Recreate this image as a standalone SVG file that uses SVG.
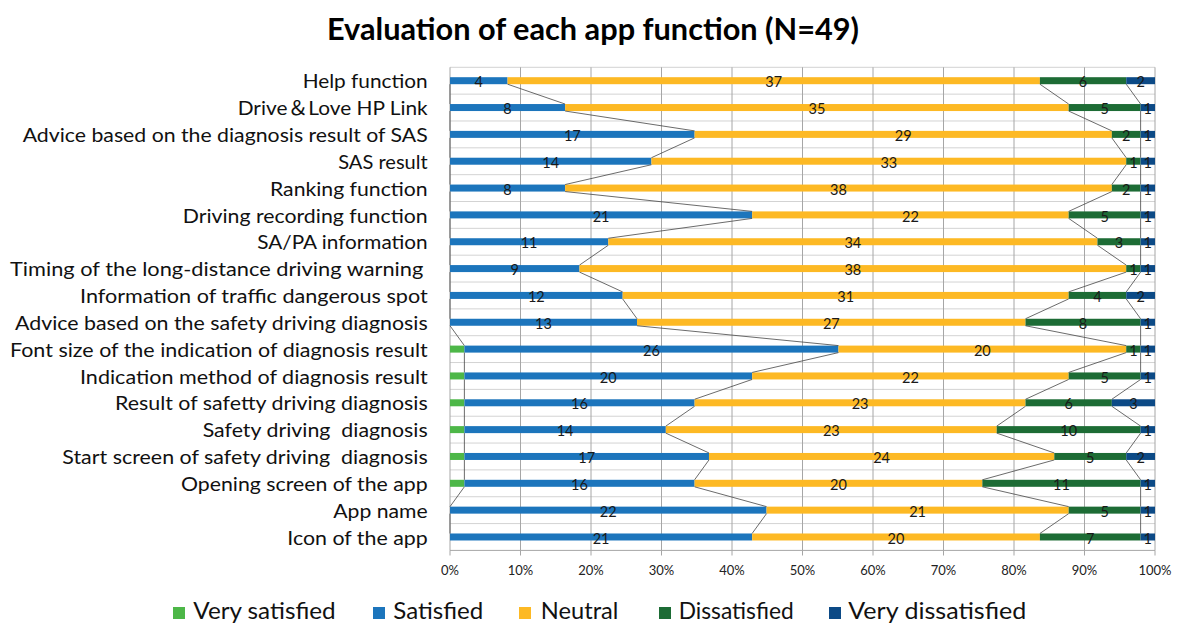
<svg xmlns="http://www.w3.org/2000/svg" width="1180" height="626" viewBox="0 0 1180 626">
<style>
.vs{fill:#4DB748}.s{fill:#1C75BC}.n{fill:#FDB924}.d{fill:#1D6C35}.vd{fill:#0C4A86}
.cat{font-family:Lato,'Noto Sans CJK JP',sans-serif;font-size:19.5px;fill:#111;text-anchor:end}
.val{font-family:Lato,sans-serif;font-size:14.5px;fill:#1a1a1a;text-anchor:middle}
.tick{font-family:Lato,sans-serif;font-size:13px;fill:#222;text-anchor:middle}
.leg{font-family:Lato,sans-serif;font-size:22.5px;fill:#111}
.title{font-family:Lato,sans-serif;font-size:30px;font-weight:bold;fill:#000;text-anchor:middle}
.vg{stroke:#A6A6A6;stroke-width:1;fill:none}
.hg{stroke:#D3D3D3;stroke-width:1;fill:none}
.ser{stroke:#454545;stroke-width:0.8;fill:none}
</style>
<rect width="1180" height="626" fill="#fff"/>
<text class="title" x="593" y="40" textLength="532" lengthAdjust="spacingAndGlyphs">Evaluation of each app function (N=49)</text>
<g id="grid">
<path class="hg" d="M450 67.3H1155M450 94.14H1155M450 120.98H1155M450 147.82H1155M450 174.66H1155M450 201.5H1155M450 228.34H1155M450 255.18H1155M450 282.02H1155M450 308.86H1155M450 335.7H1155M450 362.54H1155M450 389.38H1155M450 416.22H1155M450 443.06H1155M450 469.9H1155M450 496.74H1155M450 523.58H1155"/>
<path class="vg" d="M520.5 67.3V550.4M591 67.3V550.4M661.5 67.3V550.4M732 67.3V550.4M802.5 67.3V550.4M873 67.3V550.4M943.5 67.3V550.4M1014 67.3V550.4M1084.5 67.3V550.4M1155 67.3V550.4"/>
<path class="vg" d="M450 67.3V550.4M450 550.4H1155M450 550.4V555.5M520.5 550.4V555.5M591 550.4V555.5M661.5 550.4V555.5M732 550.4V555.5M802.5 550.4V555.5M873 550.4V555.5M943.5 550.4V555.5M1014 550.4V555.5M1084.5 550.4V555.5M1155 550.4V555.5"/>
</g>
<g id="axis-labels">
<text class="tick" x="450" y="575">0%</text>
<text class="tick" x="520.5" y="575">10%</text>
<text class="tick" x="591" y="575">20%</text>
<text class="tick" x="661.5" y="575">30%</text>
<text class="tick" x="732" y="575">40%</text>
<text class="tick" x="802.5" y="575">50%</text>
<text class="tick" x="873" y="575">60%</text>
<text class="tick" x="943.5" y="575">70%</text>
<text class="tick" x="1014" y="575">80%</text>
<text class="tick" x="1084.5" y="575">90%</text>
<text class="tick" x="1155" y="575">100%</text>
</g>
<g id="row1">
<text class="cat" x="427.7" y="88.3" textLength="125" lengthAdjust="spacingAndGlyphs">Help function</text>
<rect class="s" x="450" y="77.2" width="57.55" height="7"/><rect class="n" x="507.55" y="77.2" width="532.35" height="7"/><rect class="d" x="1039.9" y="77.2" width="86.32" height="7"/><rect class="vd" x="1126.22" y="77.2" width="28.78" height="7"/>
<text class="val" x="478.78" y="87.3">4</text><text class="val" x="773.7" y="87.3">37</text><text class="val" x="1083.06" y="87.3">6</text><text class="val" x="1140.61" y="87.3">2</text>
</g>
<g id="row2">
<text class="cat" x="427.7" y="115.14" textLength="190" lengthAdjust="spacingAndGlyphs">Drive＆Love HP Link</text>
<rect class="s" x="450" y="104.04" width="115.1" height="7"/><rect class="n" x="565.1" y="104.04" width="503.57" height="7"/><rect class="d" x="1068.67" y="104.04" width="71.94" height="7"/><rect class="vd" x="1140.61" y="104.04" width="14.39" height="7"/>
<text class="val" x="507.55" y="114.14">8</text><text class="val" x="816.9" y="114.14">35</text><text class="val" x="1104.64" y="114.14">5</text><text class="val" x="1147.8" y="114.14">1</text>
</g>
<g id="row3">
<text class="cat" x="427.7" y="141.98" textLength="405" lengthAdjust="spacingAndGlyphs">Advice based on the diagnosis result of SAS</text>
<rect class="s" x="450" y="130.88" width="244.59" height="7"/><rect class="n" x="694.59" y="130.88" width="417.25" height="7"/><rect class="d" x="1111.84" y="130.88" width="28.77" height="7"/><rect class="vd" x="1140.61" y="130.88" width="14.39" height="7"/>
<text class="val" x="572.3" y="140.98">17</text><text class="val" x="903.2" y="140.98">29</text><text class="val" x="1126.2" y="140.98">2</text><text class="val" x="1147.8" y="140.98">1</text>
</g>
<g id="row4">
<text class="cat" x="427.7" y="168.82" textLength="89.5" lengthAdjust="spacingAndGlyphs">SAS result</text>
<rect class="s" x="450" y="157.72" width="201.43" height="7"/><rect class="n" x="651.43" y="157.72" width="474.79" height="7"/><rect class="d" x="1126.22" y="157.72" width="14.39" height="7"/><rect class="vd" x="1140.61" y="157.72" width="14.39" height="7"/>
<text class="val" x="550.7" y="167.82">14</text><text class="val" x="888.8" y="167.82">33</text><text class="val" x="1133.4" y="167.82">1</text><text class="val" x="1147.8" y="167.82">1</text>
</g>
<g id="row5">
<text class="cat" x="427.7" y="195.66" textLength="157.7" lengthAdjust="spacingAndGlyphs">Ranking function</text>
<rect class="s" x="450" y="184.56" width="115.1" height="7"/><rect class="n" x="565.1" y="184.56" width="546.74" height="7"/><rect class="d" x="1111.84" y="184.56" width="28.77" height="7"/><rect class="vd" x="1140.61" y="184.56" width="14.39" height="7"/>
<text class="val" x="507.55" y="194.66">8</text><text class="val" x="838.5" y="194.66">38</text><text class="val" x="1126.2" y="194.66">2</text><text class="val" x="1147.8" y="194.66">1</text>
</g>
<g id="row6">
<text class="cat" x="427.7" y="222.5" textLength="245" lengthAdjust="spacingAndGlyphs">Driving recording function</text>
<rect class="s" x="450" y="211.4" width="302.14" height="7"/><rect class="n" x="752.14" y="211.4" width="316.53" height="7"/><rect class="d" x="1068.67" y="211.4" width="71.94" height="7"/><rect class="vd" x="1140.61" y="211.4" width="14.39" height="7"/>
<text class="val" x="601.07" y="221.5">21</text><text class="val" x="910.4" y="221.5">22</text><text class="val" x="1104.64" y="221.5">5</text><text class="val" x="1147.8" y="221.5">1</text>
</g>
<g id="row7">
<text class="cat" x="427.7" y="249.34" textLength="170.4" lengthAdjust="spacingAndGlyphs">SA/PA information</text>
<rect class="s" x="450" y="238.24" width="158.27" height="7"/><rect class="n" x="608.27" y="238.24" width="489.18" height="7"/><rect class="d" x="1097.45" y="238.24" width="43.16" height="7"/><rect class="vd" x="1140.61" y="238.24" width="14.39" height="7"/>
<text class="val" x="529.1" y="248.34">11</text><text class="val" x="852.86" y="248.34">34</text><text class="val" x="1119.03" y="248.34">3</text><text class="val" x="1147.8" y="248.34">1</text>
</g>
<g id="row8">
<text class="cat" x="423.3" y="276.18" textLength="413.3" lengthAdjust="spacingAndGlyphs">Timing of the long-distance driving warning</text>
<rect class="s" x="450" y="265.08" width="129.49" height="7"/><rect class="n" x="579.49" y="265.08" width="546.73" height="7"/><rect class="d" x="1126.22" y="265.08" width="14.39" height="7"/><rect class="vd" x="1140.61" y="265.08" width="14.39" height="7"/>
<text class="val" x="514.7" y="275.18">9</text><text class="val" x="852.86" y="275.18">38</text><text class="val" x="1133.4" y="275.18">1</text><text class="val" x="1147.8" y="275.18">1</text>
</g>
<g id="row9">
<text class="cat" x="427.7" y="303.02" textLength="347.7" lengthAdjust="spacingAndGlyphs">Information of traffic dangerous spot</text>
<rect class="s" x="450" y="291.92" width="172.65" height="7"/><rect class="n" x="622.65" y="291.92" width="446.02" height="7"/><rect class="d" x="1068.67" y="291.92" width="57.55" height="7"/><rect class="vd" x="1126.22" y="291.92" width="28.78" height="7"/>
<text class="val" x="536.3" y="302.02">12</text><text class="val" x="845.7" y="302.02">31</text><text class="val" x="1097.45" y="302.02">4</text><text class="val" x="1140.61" y="302.02">2</text>
</g>
<g id="row10">
<text class="cat" x="427.7" y="329.86" textLength="412.7" lengthAdjust="spacingAndGlyphs">Advice based on the safety driving diagnosis</text>
<rect class="s" x="450" y="318.76" width="187.04" height="7"/><rect class="n" x="637.04" y="318.76" width="388.47" height="7"/><rect class="d" x="1025.51" y="318.76" width="115.1" height="7"/><rect class="vd" x="1140.61" y="318.76" width="14.39" height="7"/>
<text class="val" x="543.5" y="328.86">13</text><text class="val" x="831.3" y="328.86">27</text><text class="val" x="1083.06" y="328.86">8</text><text class="val" x="1147.8" y="328.86">1</text>
</g>
<g id="row11">
<text class="cat" x="427.7" y="356.7" textLength="417.7" lengthAdjust="spacingAndGlyphs">Font size of the indication of diagnosis result</text>
<rect class="vs" x="450" y="345.6" width="14.39" height="7"/><rect class="s" x="464.39" y="345.6" width="374.08" height="7"/><rect class="n" x="838.47" y="345.6" width="287.75" height="7"/><rect class="d" x="1126.22" y="345.6" width="14.39" height="7"/><rect class="vd" x="1140.61" y="345.6" width="14.39" height="7"/>
<text class="val" x="651.4" y="355.7">26</text><text class="val" x="982.35" y="355.7">20</text><text class="val" x="1133.4" y="355.7">1</text><text class="val" x="1147.8" y="355.7">1</text>
</g>
<g id="row12">
<text class="cat" x="427.7" y="383.54" textLength="347.7" lengthAdjust="spacingAndGlyphs">Indication method of diagnosis result</text>
<rect class="vs" x="450" y="372.44" width="14.39" height="7"/><rect class="s" x="464.39" y="372.44" width="287.75" height="7"/><rect class="n" x="752.14" y="372.44" width="316.53" height="7"/><rect class="d" x="1068.67" y="372.44" width="71.94" height="7"/><rect class="vd" x="1140.61" y="372.44" width="14.39" height="7"/>
<text class="val" x="608.27" y="382.54">20</text><text class="val" x="910.4" y="382.54">22</text><text class="val" x="1104.64" y="382.54">5</text><text class="val" x="1147.8" y="382.54">1</text>
</g>
<g id="row13">
<text class="cat" x="427.7" y="410.38" textLength="312.7" lengthAdjust="spacingAndGlyphs">Result of safetty driving diagnosis</text>
<rect class="vs" x="450" y="399.28" width="14.39" height="7"/><rect class="s" x="464.39" y="399.28" width="230.2" height="7"/><rect class="n" x="694.59" y="399.28" width="330.92" height="7"/><rect class="d" x="1025.51" y="399.28" width="86.33" height="7"/><rect class="vd" x="1111.84" y="399.28" width="43.16" height="7"/>
<text class="val" x="579.49" y="409.38">16</text><text class="val" x="860.05" y="409.38">23</text><text class="val" x="1068.67" y="409.38">6</text><text class="val" x="1133.42" y="409.38">3</text>
</g>
<g id="row14">
<text class="cat" x="427.7" y="437.22" textLength="225" lengthAdjust="spacingAndGlyphs" xml:space="preserve">Safety driving  diagnosis</text>
<rect class="vs" x="450" y="426.12" width="14.39" height="7"/><rect class="s" x="464.39" y="426.12" width="201.43" height="7"/><rect class="n" x="665.82" y="426.12" width="330.91" height="7"/><rect class="d" x="996.73" y="426.12" width="143.88" height="7"/><rect class="vd" x="1140.61" y="426.12" width="14.39" height="7"/>
<text class="val" x="565.1" y="436.22">14</text><text class="val" x="831.3" y="436.22">23</text><text class="val" x="1068.67" y="436.22">10</text><text class="val" x="1147.8" y="436.22">1</text>
</g>
<g id="row15">
<text class="cat" x="427.7" y="464.06" textLength="365.4" lengthAdjust="spacingAndGlyphs" xml:space="preserve">Start screen of safety driving  diagnosis</text>
<rect class="vs" x="450" y="452.96" width="14.39" height="7"/><rect class="s" x="464.39" y="452.96" width="244.59" height="7"/><rect class="n" x="708.98" y="452.96" width="345.31" height="7"/><rect class="d" x="1054.29" y="452.96" width="71.93" height="7"/><rect class="vd" x="1126.22" y="452.96" width="28.78" height="7"/>
<text class="val" x="586.7" y="463.06">17</text><text class="val" x="881.6" y="463.06">24</text><text class="val" x="1090.26" y="463.06">5</text><text class="val" x="1140.61" y="463.06">2</text>
</g>
<g id="row16">
<text class="cat" x="427.7" y="490.9" textLength="246.7" lengthAdjust="spacingAndGlyphs">Opening screen of the app</text>
<rect class="vs" x="450" y="479.8" width="14.39" height="7"/><rect class="s" x="464.39" y="479.8" width="230.2" height="7"/><rect class="n" x="694.59" y="479.8" width="287.76" height="7"/><rect class="d" x="982.35" y="479.8" width="158.26" height="7"/><rect class="vd" x="1140.61" y="479.8" width="14.39" height="7"/>
<text class="val" x="579.49" y="489.9">16</text><text class="val" x="838.47" y="489.9">20</text><text class="val" x="1061.48" y="489.9">11</text><text class="val" x="1147.8" y="489.9">1</text>
</g>
<g id="row17">
<text class="cat" x="427.7" y="517.74" textLength="94.4" lengthAdjust="spacingAndGlyphs">App name</text>
<rect class="s" x="450" y="506.64" width="316.53" height="7"/><rect class="n" x="766.53" y="506.64" width="302.14" height="7"/><rect class="d" x="1068.67" y="506.64" width="71.94" height="7"/><rect class="vd" x="1140.61" y="506.64" width="14.39" height="7"/>
<text class="val" x="608.27" y="516.74">22</text><text class="val" x="917.6" y="516.74">21</text><text class="val" x="1104.64" y="516.74">5</text><text class="val" x="1147.8" y="516.74">1</text>
</g>
<g id="row18">
<text class="cat" x="427.7" y="544.58" textLength="140.4" lengthAdjust="spacingAndGlyphs">Icon of the app</text>
<rect class="s" x="450" y="533.48" width="302.14" height="7"/><rect class="n" x="752.14" y="533.48" width="287.76" height="7"/><rect class="d" x="1039.9" y="533.48" width="100.71" height="7"/><rect class="vd" x="1140.61" y="533.48" width="14.39" height="7"/>
<text class="val" x="601.07" y="543.58">21</text><text class="val" x="896" y="543.58">20</text><text class="val" x="1090.26" y="543.58">7</text><text class="val" x="1147.8" y="543.58">1</text>
</g>
<g id="connectors">
<path class="ser" d="M450 84.2L450 104.04M450 111.04L450 130.88M450 137.88L450 157.72M450 164.72L450 184.56M450 191.56L450 211.4M450 218.4L450 238.24M450 245.24L450 265.08M450 272.08L450 291.92M450 298.92L450 318.76M450 325.76L464.39 345.6M464.39 352.6L464.39 372.44M464.39 379.44L464.39 399.28M464.39 406.28L464.39 426.12M464.39 433.12L464.39 452.96M464.39 459.96L464.39 479.8M464.39 486.8L450 506.64M450 513.64L450 533.48"/>
<path class="ser" d="M507.55 84.2L565.1 104.04M565.1 111.04L694.59 130.88M694.59 137.88L651.43 157.72M651.43 164.72L565.1 184.56M565.1 191.56L752.14 211.4M752.14 218.4L608.27 238.24M608.27 245.24L579.49 265.08M579.49 272.08L622.65 291.92M622.65 298.92L637.04 318.76M637.04 325.76L838.47 345.6M838.47 352.6L752.14 372.44M752.14 379.44L694.59 399.28M694.59 406.28L665.82 426.12M665.82 433.12L708.98 452.96M708.98 459.96L694.59 479.8M694.59 486.8L766.53 506.64M766.53 513.64L752.14 533.48"/>
<path class="ser" d="M1039.9 84.2L1068.67 104.04M1068.67 111.04L1111.84 130.88M1111.84 137.88L1126.22 157.72M1126.22 164.72L1111.84 184.56M1111.84 191.56L1068.67 211.4M1068.67 218.4L1097.45 238.24M1097.45 245.24L1126.22 265.08M1126.22 272.08L1068.67 291.92M1068.67 298.92L1025.51 318.76M1025.51 325.76L1126.22 345.6M1126.22 352.6L1068.67 372.44M1068.67 379.44L1025.51 399.28M1025.51 406.28L996.73 426.12M996.73 433.12L1054.29 452.96M1054.29 459.96L982.35 479.8M982.35 486.8L1068.67 506.64M1068.67 513.64L1039.9 533.48"/>
<path class="ser" d="M1126.22 84.2L1140.61 104.04M1140.61 111.04L1140.61 130.88M1140.61 137.88L1140.61 157.72M1140.61 164.72L1140.61 184.56M1140.61 191.56L1140.61 211.4M1140.61 218.4L1140.61 238.24M1140.61 245.24L1140.61 265.08M1140.61 272.08L1126.22 291.92M1126.22 298.92L1140.61 318.76M1140.61 325.76L1140.61 345.6M1140.61 352.6L1140.61 372.44M1140.61 379.44L1111.84 399.28M1111.84 406.28L1140.61 426.12M1140.61 433.12L1126.22 452.96M1126.22 459.96L1140.61 479.8M1140.61 486.8L1140.61 506.64M1140.61 513.64L1140.61 533.48"/>
</g>
<g id="legend">
<rect class="vs" x="173" y="607" width="12" height="12"/><text class="leg" x="193.3" y="619.3" textLength="142.4" lengthAdjust="spacingAndGlyphs">Very satisfied</text>
<rect class="s" x="373" y="607" width="12" height="12"/><text class="leg" x="393.3" y="619.3" textLength="90" lengthAdjust="spacingAndGlyphs">Satisfied</text>
<rect class="n" x="519" y="607" width="12" height="12"/><text class="leg" x="540.8" y="619.3" textLength="77.6" lengthAdjust="spacingAndGlyphs">Neutral</text>
<rect class="d" x="659" y="607" width="12" height="12"/><text class="leg" x="678.7" y="619.3" textLength="115" lengthAdjust="spacingAndGlyphs">Dissatisfied</text>
<rect class="vd" x="829" y="607" width="12" height="12"/><text class="leg" x="848.3" y="619.3" textLength="178" lengthAdjust="spacingAndGlyphs">Very dissatisfied</text>
</g>
</svg>
